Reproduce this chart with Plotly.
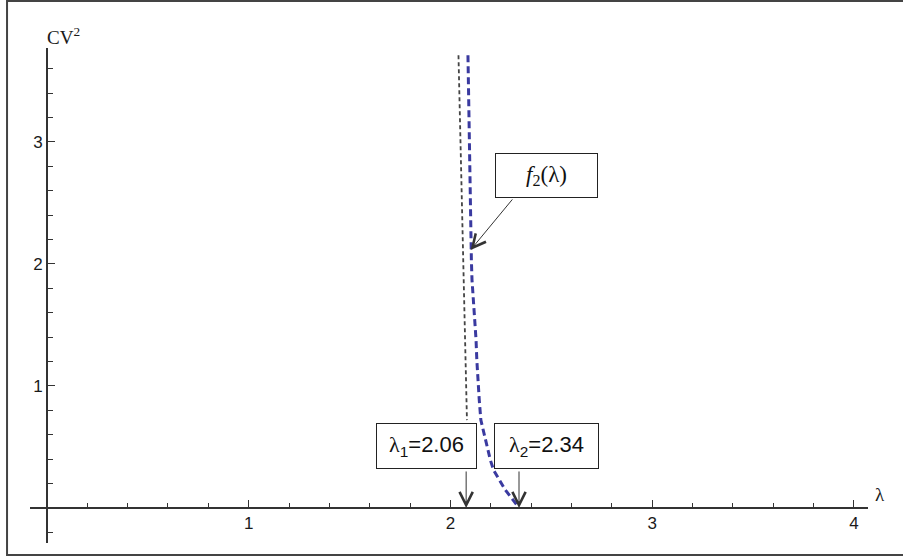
import plotly.graph_objects as go

# ---- data ----
lam_f2 = [2.087, 2.092, 2.097, 2.101, 2.104, 2.107, 2.115, 2.120, 2.127, 2.131, 2.136, 2.143,
          2.151, 2.173, 2.198, 2.214, 2.243, 2.272, 2.310, 2.338, 2.34]
cv_f2 = [3.71, 3.10, 2.55, 2.17, 2.03, 1.87, 1.705, 1.54, 1.38, 1.21, 1.05, 0.885,
         0.72, 0.557, 0.393, 0.311, 0.23, 0.148, 0.066, 0.011, 0.0]
lam_f1 = [2.040, 2.052, 2.062, 2.073, 2.082]
cv_f1 = [3.71, 2.83, 2.01, 1.38, 0.72]

x_ticks = [1, 2, 3, 4]
y_ticks = [1, 2, 3]
x_minor = [round(0.2 * i, 1) for i in range(1, 20) if i % 5 != 0]
y_minor = [round(0.2 * i, 1) for i in range(-1, 19) if i % 5 != 0]

x_range = [-0.084, 4.07]
y_range = [-0.287, 3.77]

SERIF = "Liberation Serif"
lam = '<span style="font-family:Liberation Serif">λ</span>'
lam1_label = lam + "<sub>1</sub>=2.06"
lam2_label = lam + "<sub>2</sub>=2.34"
lam1_arrow = 2.078
lam2_arrow = 2.34
f2_label = "<i>f</i><sub>2</sub>(λ)"

axis_color = "#333333"
text_color = "#1a1a1a"

fig = go.Figure()
fig.add_trace(go.Scatter(x=lam_f1, y=cv_f1, mode="lines",
                         line=dict(color="#444444", width=1.8, dash="4px,3px"),
                         showlegend=False, hoverinfo="skip"))
fig.add_trace(go.Scatter(x=lam_f2, y=cv_f2, mode="lines",
                         line=dict(color="#3a3aa0", width=3, dash="7px,4px"),
                         showlegend=False, hoverinfo="skip"))

xpos = (0 - y_range[0]) / (y_range[1] - y_range[0])
ypos = (0 - x_range[0]) / (x_range[1] - x_range[0])

fig.update_layout(
    width=903, height=558, autosize=False,
    margin=dict(l=30, r=35, t=48, b=15),
    paper_bgcolor="white", plot_bgcolor="white",
    hovermode=False,
    xaxis=dict(range=x_range, showgrid=False, zeroline=False, showline=True,
               linecolor=axis_color, linewidth=1.5, anchor="free", position=xpos,
               automargin=False, fixedrange=True,
               tickmode="array", tickvals=x_ticks, ticks="inside", ticklen=7,
               tickwidth=1.3, tickcolor=axis_color,
               tickfont=dict(family="Liberation Sans", size=17, color=text_color),
               minor=dict(tickmode="array", tickvals=x_minor, ticks="inside",
                          ticklen=4, tickwidth=1.3, tickcolor=axis_color, showgrid=False)),
    yaxis=dict(range=y_range, showgrid=False, zeroline=False, showline=True,
               linecolor=axis_color, linewidth=1.5, anchor="free", position=ypos,
               automargin=False, fixedrange=True,
               tickmode="array", tickvals=y_ticks, ticks="inside", ticklen=7,
               tickwidth=1.3, tickcolor=axis_color,
               tickfont=dict(family="Liberation Sans", size=17, color=text_color),
               minor=dict(tickmode="array", tickvals=y_minor, ticks="inside",
                          ticklen=5, tickwidth=1.3, tickcolor=axis_color, showgrid=False)),
)

# outer frame
fig.add_shape(type="rect", xref="paper", yref="paper",
              x0=-0.0274, x1=1.06, y0=-0.0242, y1=1.095,
              line=dict(color="#444444", width=2), fillcolor="rgba(0,0,0,0)", layer="below")

box_font = dict(family="Liberation Sans", size=22, color="#111111")
serif_font = dict(family=SERIF, size=23, color="#111111")

# label boxes
fig.add_annotation(x=1.882, y=0.508, text=lam1_label, showarrow=False,
                   font=box_font, bgcolor="white", bordercolor="#222222", borderwidth=1,
                   width=97, height=42, borderpad=1)
fig.add_annotation(x=2.478, y=0.508, text=lam2_label, showarrow=False,
                   font=box_font, bgcolor="white", bordercolor="#222222", borderwidth=1,
                   width=101, height=42, borderpad=1)
fig.add_annotation(x=2.478, y=2.725, text=f2_label, showarrow=False,
                   font=serif_font, bgcolor="white", bordercolor="#222222", borderwidth=1,
                   width=99, height=41, borderpad=1)

# arrows
arrow_style = dict(showarrow=True, arrowhead=5, arrowsize=2.6, arrowwidth=1,
                   arrowcolor="#333333", text="")
fig.add_annotation(x=lam1_arrow, y=0, ax=0, ay=-38, **arrow_style)
fig.add_annotation(x=lam2_arrow, y=0, ax=0, ay=-38, **arrow_style)
fig.add_annotation(x=2.10, y=2.115, ax=43, ay=-52, **arrow_style)

# axis labels (paper coordinates so they are shown outside the axis ranges)
fig.add_annotation(xref="paper", yref="paper", x=0.0179, y=1.0525, text="CV<sup>2</sup>",
                   showarrow=False, font=dict(family=SERIF, size=19, color=text_color))
fig.add_annotation(xref="paper", yref="paper", x=1.0227, y=0.0727, text="λ",
                   showarrow=False, font=dict(family=SERIF, size=19, color=text_color))

fig.write_html("out.html", config={"displayModeBar": False},
               post_script="document.body.style.margin='0px';")
